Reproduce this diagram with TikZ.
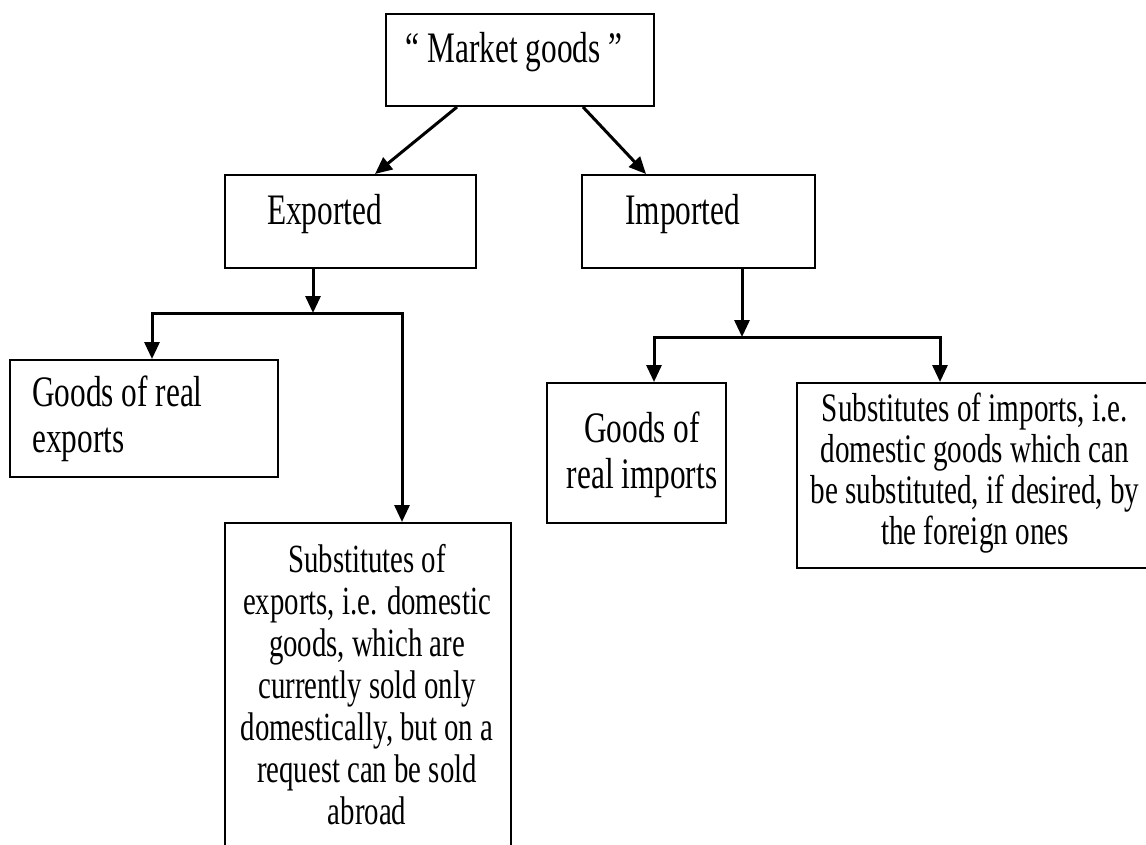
\documentclass[tikz,border=0pt]{standalone}
\usepackage{fontspec}
\setmainfont{Liberation Serif}[FakeStretch=0.72]
\usetikzlibrary{arrows.meta}
\begin{document}
\begin{tikzpicture}[x=1pt,y=-1pt,
  box/.style={draw, line width=2pt, inner sep=0pt, anchor=north west},
  conn/.style={line width=3pt, -{Triangle[width=15pt,length=17pt]}},
  txt/.style={inner sep=0pt, font={\fontsize{43.5}{46}\selectfont\lineskiplimit=-100pt}},
  longtxt/.style 2 args={inner sep=0pt, align=center, anchor=base, font={\fontsize{#1}{#2}\selectfont\lineskiplimit=-100pt}},
]
\clip (0,0) rectangle (1146,844);
\fill[white] (0,0) rectangle (1146,844);

% boxes
\node[box, minimum width=268pt, minimum height=92pt] (mg) at (385,13) {};
\node[box, minimum width=251pt, minimum height=93pt] (ex) at (224,174) {};
\node[box, minimum width=233pt, minimum height=93pt] (im) at (581,174) {};
\node[box, minimum width=268pt, minimum height=117pt] (gre) at (9,359) {};
\node[box, minimum width=286pt, minimum height=340pt] (sex) at (224,522) {};
\node[box, minimum width=179pt, minimum height=140pt] (gri) at (546,382) {};
\node[box, minimum width=367pt, minimum height=185pt] (sim) at (796,382) {};

% texts (multi-line nodes are anchored at the baseline of their last line)
\node[txt, anchor=base] (mgt) at (514,62) {“ Market goods ”};
\node[txt, anchor=base west] (ext) at (267,224) {Exported};
\node[txt, anchor=base west] (imt) at (625,224) {Imported};
\node[txt, anchor=base west, align=left] (gret) at (32,452) {Goods of real\\exports};
\node[txt, anchor=base, align=center] (grit) at (642,488) {Goods of\\real imports};
\node[longtxt={40}{42}] (sext) at (367,824) {Substitutes of\\exports, i.e. domestic\\goods, which are\\currently sold only\\domestically, but on a\\request can be sold\\abroad};
\node[longtxt={40.5}{41}] (simt) at (975,544) {Substitutes of imports, i.e.\\domestic goods which can\\be substituted, if desired, by\\the foreign ones};

% connectors
\draw[conn] (457,0 |- mg.south) -- (375,0 |- ex.north);
\draw[conn] (583,0 |- mg.south) -- (646,0 |- im.north);

\coordinate (jx) at (313,313);
\coordinate (jxl) at (152,313);
\coordinate (jxr) at (402,313);
\draw[conn] (jx |- ex.south) -- (jx);
\draw[conn] (jx) -- (jxl) -- (jxl |- gre.north);
\draw[conn] (jx) -- (jxr) -- (jxr |- sex.north);

\coordinate (ji) at (742,337);
\coordinate (jil) at (654,337);
\coordinate (jir) at (940,337);
\draw[conn] (ji |- im.south) -- (ji);
\draw[conn] (ji) -- (jil) -- (jil |- gri.north);
\draw[conn] (ji) -- (jir) -- (jir |- sim.north);
\end{tikzpicture}
\end{document}
